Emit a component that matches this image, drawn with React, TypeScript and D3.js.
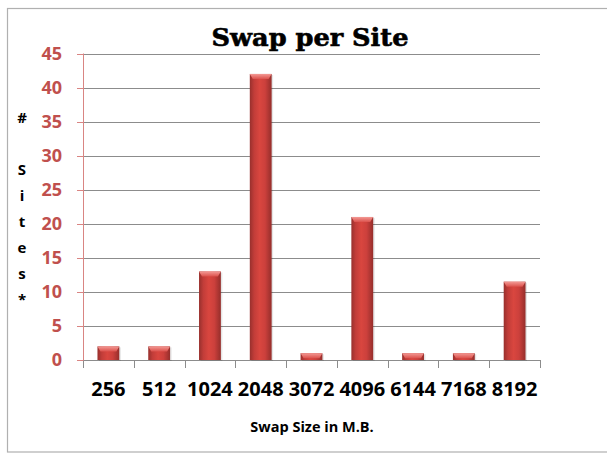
import React from "react";
import * as d3 from "d3";

const categories = ["256", "512", "1024", "2048", "3072", "4096", "6144", "7168", "8192"];
const sites = [2, 2, 13, 42, 1, 21, 1, 1, 11.5];
const yTicks = [0, 5, 10, 15, 20, 25, 30, 35, 40, 45];
const yTitleChars = ["#", "", "S", "i", "t", "e", "s", "*"];
const title = "Swap per Site";
const xTitle = "Swap Size in M.B.";

const W = 607;
const H = 453;
const left = 83;
const right = 540;
const top = 53.5;
const bottom = 360;

export default function App() {
  const x = d3
    .scaleBand<string>()
    .domain(categories)
    .range([left, right])
    .paddingInner(0.57)
    .paddingOuter(0.285);
  const y = d3.scaleLinear().domain([0, 45]).range([bottom, top]);
  const step = (right - left) / categories.length;
  const boundaries = d3.range(categories.length + 1).map((i) => left + i * step);
  const redText = "#C0504D";

  return (
    <svg
      width={W}
      height={H}
      style={{ position: "absolute", left: 0, top: 0, display: "block" }}
    >
      <defs>
        <linearGradient id="barGrad" x1="0" x2="1" y1="0" y2="0">
          <stop offset="0%" stopColor="#98302d" />
          <stop offset="20%" stopColor="#c23d39" />
          <stop offset="45%" stopColor="#d9463f" />
          <stop offset="70%" stopColor="#cc403c" />
          <stop offset="100%" stopColor="#952e2b" />
        </linearGradient>
        <linearGradient id="capGrad" x1="0" x2="0" y1="0" y2="1">
          <stop offset="0%" stopColor="#f39a95" />
          <stop offset="100%" stopColor="#dc524d" />
        </linearGradient>
      </defs>
      <rect x={0} y={0} width={W} height={H} fill="#fff" />
      <rect
        x={7.5}
        y={8.5}
        width={620}
        height={443.5}
        fill="none"
        stroke="#b0b0b0"
        strokeWidth={1.2}
      />
      {/* gridlines */}
      {yTicks.map((t) => (
        <line
          key={"g" + t}
          x1={left}
          x2={right}
          y1={Math.round(y(t)) + 0.5}
          y2={Math.round(y(t)) + 0.5}
          stroke="#8c8c8c"
          strokeWidth={1}
        />
      ))}
      {/* x ticks */}
      {boundaries.map((b, i) => (
        <line
          key={"xt" + i}
          x1={Math.round(b) + 0.5}
          x2={Math.round(b) + 0.5}
          y1={bottom}
          y2={bottom + 8}
          stroke="#8c8c8c"
        />
      ))}
      {/* y axis */}
      <line
        x1={left + 0.5}
        x2={left + 0.5}
        y1={top}
        y2={bottom + 0.5}
        stroke="#d98583"
        strokeWidth={1}
      />
      {yTicks.map((t) => (
        <line
          key={"yt" + t}
          x1={left - 6}
          x2={left}
          y1={Math.round(y(t)) + 0.5}
          y2={Math.round(y(t)) + 0.5}
          stroke="#d98583"
        />
      ))}
      {/* bars */}
      {categories.map((c, i) => {
        const bx = x(c) as number;
        const bw = x.bandwidth();
        const by = y(sites[i]);
        const bh = bottom - by;
        const cap = Math.min(5, bh);
        return (
          <g key={c}>
            <rect x={bx + 1.5} y={by + 1} width={bw} height={bh} fill="#000" opacity={0.1} />
            <rect x={bx} y={by} width={bw} height={bh} fill="url(#barGrad)" />
            <path
              d={`M${bx},${by} L${bx + bw},${by} L${bx + bw - 3},${by + cap} L${bx + 3},${by + cap} Z`}
              fill="url(#capGrad)"
            />
          </g>
        );
      })}
      {/* y tick labels */}
      {yTicks.map((t) => (
        <text
          key={"yl" + t}
          x={62}
          y={y(t)}
          dy="0.36em"
          textAnchor="end"
          fontFamily="'Open Sans', sans-serif"
          fontWeight="bold"
          fontSize={18}
          fill={redText}
        >
          {t}
        </text>
      ))}
      {/* x labels */}
      {categories.map((c) => (
        <text
          key={"xl" + c}
          x={(x(c) as number) + x.bandwidth() / 2}
          y={396}
          textAnchor="middle"
          fontFamily="'Open Sans', sans-serif"
          fontWeight="bold"
          fontSize={20}
          fill="#000"
        >
          {c}
        </text>
      ))}
      {/* y title */}
      {yTitleChars.map((ch, i) => (
        <text
          key={"yc" + i}
          x={22}
          y={118 + i * 26}
          dy="0.36em"
          textAnchor="middle"
          fontFamily="'Open Sans', sans-serif"
          fontWeight="bold"
          fontSize={15}
          fill="#000"
        >
          {ch}
        </text>
      ))}
      {/* x title */}
      <text
        x={312}
        y={432}
        textAnchor="middle"
        fontFamily="'Open Sans', sans-serif"
        fontWeight="bold"
        fontSize={14.5}
        fill="#000"
      >
        {xTitle}
      </text>
      {/* title */}
      <text
        x={310}
        y={46}
        textAnchor="middle"
        fontFamily="'DejaVu Serif', serif"
        fontWeight="bold"
        fontSize={24}
        fill="#000"
        stroke="#000"
        strokeWidth={0.6}
        textLength={197}
        lengthAdjust="spacingAndGlyphs"
      >
        {title}
      </text>
    </svg>
  );
}
